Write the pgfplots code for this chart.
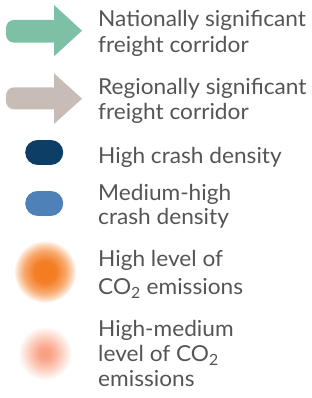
\documentclass[border=0pt]{standalone}
\usepackage{pgfplots}
\pgfplotsset{compat=1.18}
\usepackage{fontspec}
\setmainfont[FakeStretch=1.03]{Lato}
\definecolor{corrgreen}{HTML}{7DC0A6}
\definecolor{corrgray}{HTML}{C7BDB6}
\definecolor{crashnavy}{HTML}{0D3F66}
\definecolor{crashblue}{HTML}{4F81B9}
\definecolor{co2orange}{HTML}{F47B20}
\definecolor{co2salmon}{HTML}{F99E80}
\definecolor{txt}{HTML}{555555}
\pgfdeclareradialshading{glowO}{\pgfpoint{0bp}{0bp}}{color(0bp)=(co2orange); color(9bp)=(co2orange!97!white); color(17bp)=(co2orange!65!white); color(22bp)=(co2orange!30!white); color(24.5bp)=(co2orange!8!white); color(25bp)=(white); color(50bp)=(white)}
\pgfdeclareradialshading{glowS}{\pgfpoint{0bp}{0bp}}{color(0bp)=(co2salmon); color(5bp)=(co2salmon!95!white); color(13bp)=(co2salmon!60!white); color(19bp)=(co2salmon!30!white); color(23.5bp)=(co2salmon!8!white); color(25bp)=(white); color(50bp)=(white)}
\begin{document}
\begin{tikzpicture}
\begin{axis}[axis lines=none, scale only axis, width=312pt, height=398pt,
  xmin=0, xmax=312, ymin=0, ymax=398, y dir=reverse, clip=false]
\draw[draw=none] (rel axis cs:0,0) rectangle (rel axis cs:1,1);
% arrows
\addplot[fill=corrgreen, draw=none, rounded corners=8pt] coordinates {(60,20) (6,20) (6,42.7) (60,42.7)} -- cycle;
\addplot[fill=corrgreen, draw=none] coordinates {(54,5) (82,30.7) (54,56.3)} -- cycle;
\addplot[fill=corrgray, draw=none, rounded corners=8pt] coordinates {(60,87.3) (6,87.3) (6,109.3) (60,109.3)} -- cycle;
\addplot[fill=corrgray, draw=none] coordinates {(54,73.3) (82,98.7) (54,124)} -- cycle;
% pills
\addplot[line width=25pt, line cap=round, color=crashnavy] coordinates {(37.7,152.3) (50.7,152.3)};
\addplot[line width=25pt, line cap=round, color=crashblue] coordinates {(37.7,203.3) (50.7,203.3)};
% glows
\addplot[draw=none, mark=none, nodes near coords={}, every node near coord/.style={circle, minimum size=62pt, inner sep=0pt, shading=glowO, anchor=center}] coordinates {(45,271.7)};
\addplot[draw=none, mark=none, nodes near coords={}, every node near coord/.style={circle, minimum size=54pt, inner sep=0pt, shading=glowS, anchor=center}] coordinates {(45,353.3)};
% texts
\begin{scope}[every node/.style={anchor=base west, inner sep=0pt, text=txt, font=\fontsize{22}{26}\selectfont}]
\node at (axis cs:98,26.7) {Nationally significant};
\node at (axis cs:98,52.7) {freight corridor};
\node at (axis cs:98,94.3) {Regionally significant};
\node at (axis cs:98,119.3) {freight corridor};
\node at (axis cs:98,163) {High crash density};
\node at (axis cs:98,200) {Medium-high};
\node at (axis cs:98,224.3) {crash density};
\node at (axis cs:98,266.7) {High level of};
\node at (axis cs:98,294.3) {CO\textsubscript{2} emissions};
\node at (axis cs:98,336) {High-medium};
\node at (axis cs:98,361) {level of CO\textsubscript{2}};
\node at (axis cs:98,386.7) {emissions};
\end{scope}
\end{axis}
\end{tikzpicture}
\end{document}
